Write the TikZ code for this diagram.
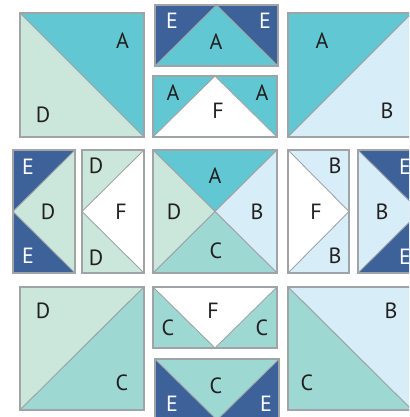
\documentclass[tikz,border=0pt]{standalone}
\usepackage{fontspec}
\setmainfont{PT Sans}
\definecolor{cA}{HTML}{60C7D3}
\definecolor{cB}{HTML}{D7EEF9}
\definecolor{cC}{HTML}{9DD8D3}
\definecolor{cD}{HTML}{CBE6DA}
\definecolor{cE}{HTML}{3D6299}
\definecolor{cF}{HTML}{FFFFFF}
\definecolor{edge}{HTML}{A0A4A7}
\definecolor{ink}{HTML}{231F20}
\tikzset{
  patch/.style={draw=edge, line width=0.9pt, line join=round},
  frame/.style={draw=edge, line width=1.3pt},
  lab/.style={font=\fontsize{22}{22}\selectfont, text=ink, inner sep=0pt},
  labw/.style={lab, text=white},
}
\begin{document}
\begin{tikzpicture}[x=1pt,y=-1pt]
\useasboundingbox (0,0) rectangle (409,417);
\clip (0,0) rectangle (409,417);
% top-left square
\fill[cA,patch] (20,13) -- (144,13) -- (144,137) -- cycle;
\fill[cD,patch] (20,13) -- (20,137) -- (144,137) -- cycle;
\draw[frame] (20,13) rectangle (144,137);
\node[lab] (tlA) at (122.5,41) {A};
\node[lab] (tlD) at (43,115) {D};
% goose E A E
\fill[cE,patch] (155,5) rectangle (278,66);
\fill[cA,patch] (155,66) -- (216.5,5) -- (278,66) -- cycle;
\draw[frame] (155,5) rectangle (278,66);
\node[labw] (g1E1) at (172,21) {E};
\node[lab] (g1A) at (216,42) {A};
\node[labw] (g1E2) at (265,21) {E};
% goose A F A
\fill[cA,patch] (153,76) rectangle (277,137);
\fill[cF,patch] (153,137) -- (215,76) -- (277,137) -- cycle;
\draw[frame] (153,76) rectangle (277,137);
\node[lab] (g2A1) at (173,93) {A};
\node[lab] (g2F) at (218,111) {F};
\node[lab] (g2A2) at (262,93) {A};
% top-right square
\fill[cA,patch] (288,13) -- (412,13) -- (288,137) -- cycle;
\fill[cB,patch] (412,13) -- (412,137) -- (288,137) -- cycle;
\draw[frame] (288,13) rectangle (412,137);
\node[lab] (trA) at (322,41) {A};
\node[lab] (trB) at (387,111) {B};
% goose E D E
\fill[cE,patch] (13,150) rectangle (75,273);
\fill[cD,patch] (75,150) -- (13,211.5) -- (75,273) -- cycle;
\draw[frame] (13,150) rectangle (75,273);
\node[labw] (g3E1) at (28,167) {E};
\node[lab] (g3D) at (48,212) {D};
\node[labw] (g3E2) at (28,256) {E};
% goose D F D
\fill[cD,patch] (82,150) rectangle (144,273);
\fill[cF,patch] (144,150) -- (82,211.5) -- (144,273) -- cycle;
\draw[frame] (82,150) rectangle (144,273);
\node[lab] (g4D1) at (96,166) {D};
\node[lab] (g4F) at (121,212) {F};
\node[lab] (g4D2) at (96,258) {D};
% centre square
\fill[cA,patch] (153,150) -- (277,150) -- (215,211.5) -- cycle;
\fill[cB,patch] (277,150) -- (277,273) -- (215,211.5) -- cycle;
\fill[cC,patch] (277,273) -- (153,273) -- (215,211.5) -- cycle;
\fill[cD,patch] (153,273) -- (153,150) -- (215,211.5) -- cycle;
\draw[frame] (153,150) rectangle (277,273);
\node[lab] (cA) at (215,176) {A};
\node[lab] (cD) at (174,212) {D};
\node[lab] (cB) at (257,212) {B};
\node[lab] (cC) at (216,251) {C};
% goose F B B
\fill[cB,patch] (288,150) rectangle (349,273);
\fill[cF,patch] (288,150) -- (349,211.5) -- (288,273) -- cycle;
\draw[frame] (288,150) rectangle (349,273);
\node[lab] (g5B1) at (335,166) {B};
\node[lab] (g5F) at (316,212) {F};
\node[lab] (g5B2) at (335,256) {B};
% goose B E E
\fill[cE,patch] (358,150) rectangle (420,273);
\fill[cB,patch] (358,150) -- (420,211.5) -- (358,273) -- cycle;
\draw[frame] (358,150) rectangle (420,273);
\node[lab] (g6B) at (382,212) {B};
\node[labw] (g6E1) at (405,167) {E};
\node[labw] (g6E2) at (405,257) {E};
% bottom-left square
\fill[cD,patch] (20,287) -- (144,287) -- (20,410) -- cycle;
\fill[cC,patch] (144,287) -- (144,410) -- (20,410) -- cycle;
\draw[frame] (20,287) rectangle (144,410);
\node[lab] (blD) at (43,311) {D};
\node[lab] (blC) at (122,383) {C};
% goose F C C
\fill[cC,patch] (153,287) rectangle (277,348);
\fill[cF,patch] (153,287) -- (277,287) -- (215,348) -- cycle;
\draw[frame] (153,287) rectangle (277,348);
\node[lab] (g7F) at (213,311) {F};
\node[lab] (g7C1) at (168,328) {C};
\node[lab] (g7C2) at (262,328) {C};
% goose C E E
\fill[cE,patch] (155,359) rectangle (279,420);
\fill[cC,patch] (155,359) -- (279,359) -- (217,420) -- cycle;
\draw[frame] (155,359) rectangle (279,420);
\node[lab] (g8C) at (216,386) {C};
\node[labw] (g8E1) at (172,404) {E};
\node[labw] (g8E2) at (266,404) {E};
% bottom-right square
\fill[cB,patch] (288,287) -- (412,287) -- (412,410) -- cycle;
\fill[cC,patch] (288,287) -- (288,410) -- (412,410) -- cycle;
\draw[frame] (288,287) rectangle (412,410);
\node[lab] (brB) at (391,311) {B};
\node[lab] (brC) at (307,383) {C};
\end{tikzpicture}
\end{document}
